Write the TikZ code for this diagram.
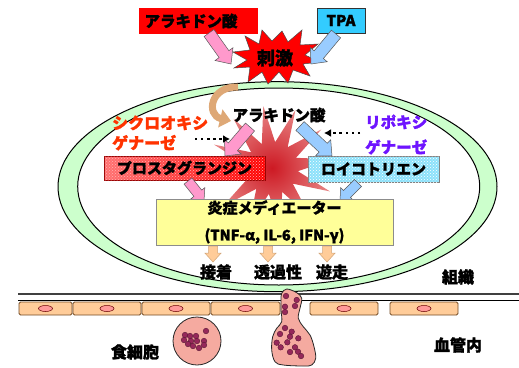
\documentclass[tikz,border=0pt]{standalone}
\usepackage{fontspec}
\setmainfont{Noto Sans CJK JP}[BoldFeatures={FakeBold=1.5}]
\usetikzlibrary{calc,shapes.geometric,patterns,arrows.meta}

\definecolor{aared}{RGB}{255,0,0}
\definecolor{tpacyan}{RGB}{51,204,255}
\definecolor{pinkarr}{RGB}{255,153,204}
\definecolor{bluearr}{RGB}{153,204,255}
\definecolor{ringgreen}{RGB}{204,255,204}
\definecolor{coxred}{RGB}{255,51,0}
\definecolor{loxviolet}{RGB}{110,20,255}
\definecolor{medyellow}{RGB}{255,255,153}
\definecolor{cellorange}{RGB}{255,204,153}
\definecolor{nucpink}{RGB}{255,153,153}
\definecolor{wbcpink}{RGB}{245,170,160}
\definecolor{granule}{RGB}{150,40,90}
\definecolor{tanarr}{RGB}{222,168,118}
\definecolor{ltcyan}{RGB}{140,225,250}

% fat arrow from #2 to #3, half widths of shaft (#4) and head (#5)
\newcommand\fatarrow[5]{%
  \filldraw[#1] let \p1=($(#3)-(#2)$), \n1={atan2(\y1,\x1)},
      \n2={veclen(\x1,\y1)-1.1*#5} in
    ($(#2)+(\n1+90:#4)$) -- ($(#2)+(\n1:{\n2*1pt})+(\n1+90:#4)$)
    -- ($(#2)+(\n1:{\n2*1pt})+(\n1+90:#5)$) -- (#3)
    -- ($(#2)+(\n1:{\n2*1pt})+(\n1-90:#5)$) -- ($(#2)+(\n1:{\n2*1pt})+(\n1-90:#4)$)
    -- ($(#2)+(\n1-90:#4)$) -- cycle;}

\tikzset{
  jp/.style={font=\bfseries\fontsize{#1}{#1}\selectfont, inner sep=0pt},
  jp/.default=15.5,
  box/.style={inner sep=0pt, font=\bfseries\fontsize{15}{18}\selectfont},
  pinkfat/.style={fill=pinkarr, draw=black!65, line width=.5pt},
  bluefat/.style={fill=bluearr, draw=black!65, line width=.5pt},
  orangefat/.style={fill=cellorange, draw=brown!70, line width=.5pt},
  cell/.style={draw=brown!60!black, fill=cellorange, rounded corners=1.5pt, line width=.8pt},
  nuc/.style={draw=red!40!black, fill=nucpink, line width=.5pt},
  granule/.style={fill=granule, draw=granule!60!black, line width=.4pt},
  dotarrow/.style={line width=2.3pt, dash pattern=on 2.3pt off 3.8pt, -{Latex[length=7pt,width=8pt]}},
}

\begin{document}
\begin{tikzpicture}[x=1pt,y=-1pt]
\useasboundingbox[fill=white] (0,0) rectangle (519,367);

% tissue ring
\filldraw[fill=ringgreen, line width=1pt] (277.5,186.7) ellipse (219.5pt and 105pt);
\filldraw[fill=white, line width=1pt] (278.7,186.5) ellipse (201pt and 98.5pt);

% vessel wall
\draw[line width=1.3pt, black!75] (18,294) -- (519,294);
\draw[line width=1.3pt] (18,300.5) -- (519,300.5);
\foreach \a/\b in {19/72,73/141,142/210,211/280,310/378,390/458}{
  \draw[cell] (\a,302) rectangle (\b,315);
  \draw[nuc] ({(\a+\b)/2},308.5) ellipse (7pt and 3pt);
}

% phagocyte
\filldraw[fill=wbcpink, draw=black!85, line width=.8pt] (197,341) circle (24pt);
\foreach \p in {(185,335),(190,336),(196,336),(206,331),(184,340),(191,341),
  (197,341),(204,341),(188,344),(193,346),(199,348),(204,345)}
  \filldraw[granule] \p circle (2.8pt);

% cell passing the wall
\filldraw[fill=wbcpink, draw=black!85, line width=.8pt] plot[smooth cycle, tension=.6] coordinates {
  (286.7,289) (296.7,292.7) (301.7,298.3) (300,308.3) (298.3,318.3) (303.3,326.7)
  (310,335) (314,346.7) (315.7,358.3) (311.7,365) (303.3,366) (283.3,365)
  (275,361.7) (271.7,350) (272.7,336.7) (276.7,328.3) (281.7,321.7) (281,310)
  (281,300) (281.7,293.3)};
\foreach \p in {(286,296),(296.7,300),(295,306),(285,306.7),(285,312),
  (285,328),(291.7,331.7),(280,334),(290,336.7),(298.3,338.3),(276.7,342.7),
  (287.3,342.3),(280.7,347.3),(295,347.3),(290,352),(298,351.7),(301,356)}
  \filldraw[granule] \p circle (2.8pt);

% stimulus burst
\filldraw[fill=red, draw=black!70, line width=.5pt] (233,52) -- (250,50) -- (245,36)
  -- (259,44) -- (262,30) -- (272,41) -- (282,31) -- (288,42) -- (302,30)
  -- (300,45) -- (318,44) -- (305,55) -- (320,62) -- (303,64) -- (310,76)
  -- (293,70) -- (288,83) -- (279,72) -- (268,84) -- (262,72) -- (248,82)
  -- (250,67) -- (234,68) -- (247,60) -- cycle;
\node[jp=18] (stim) at (275,58) {刺激};

% release of arachidonic acid
\coordinate (rel1) at (238,87);
\coordinate (rel2) at (231,121);
\draw[line width=7pt, tanarr, -{Triangle[length=11pt,width=18pt]}]
  (rel1) .. controls (210,86) and (206,115) .. (rel2);

% inflammation burst
\node[star, star points=12, star point ratio=2.4, minimum size=125pt, inner sep=0pt,
  shading=radial, inner color={rgb,255:red,205;green,25;blue,35},
  outer color={rgb,255:red,232;green,135;blue,135}, rotate=8] (burst) at (272,168) {};

% top boxes
\node[box, fill=aared, minimum width=119pt, minimum height=26pt] (aa) at (198.5,21) {};
\node[jp=15.5] at (191,21) {アラキドン酸};
\node[box, fill=tpacyan, draw=black!80, line width=.6pt, minimum width=48pt, minimum height=25pt] (tpa) at (341,20.5) {TPA};
\coordinate (aa1) at (209,33);
\coordinate (aa2) at (231,64);
\coordinate (tpa1) at (336,34);
\coordinate (tpa2) at (311,64);
\fatarrow{pinkfat}{aa1}{aa2}{6pt}{11pt}
\fatarrow{bluefat}{tpa1}{tpa2}{6pt}{11pt}

% enzymes and products
\node[jp] (aamid) at (279,115) {アラキドン酸};
\node[jp, anchor=west, align=left, text=coxred, font=\bfseries\fontsize{16}{20}\selectfont] (cox) at (112,133) {シクロオキシ\\ゲナーゼ};
\node[jp, anchor=west, align=left, text=loxviolet, font=\bfseries\fontsize{15.5}{25}\selectfont] (lox) at (365,134.5) {リポキシ\\ゲナーゼ};

\node[box, draw=red!60!black, line width=.6pt, minimum width=161pt, minimum height=24pt,
  left color=red!55!white, right color=red,
  postaction={pattern=crosshatch dots, pattern color=white!70!red}] (pg) at (184.5,168) {};
\node[jp=15] at (pg) {プロスタグランジン};
\node[box, draw=black!50, line width=.6pt, minimum width=131pt, minimum height=26pt, fill=ltcyan,
  postaction={pattern=crosshatch dots, pattern color=white}] (lt) at (373.5,169) {};
\node[jp=15] at (lt) {ロイコトリエン};

\coordinate (cx1) at (250,127);
\coordinate (cx2) at (225,156);
\coordinate (lx1) at (300,126);
\coordinate (lx2) at (332,156);
\fatarrow{pinkfat}{cx1}{cx2}{6pt}{11pt}
\fatarrow{bluefat}{lx1}{lx2}{6pt}{11pt}

\coordinate (cd1) at (195,139);
\coordinate (cd2) at (230,139);
\coordinate (ld1) at (360,133);
\coordinate (ld2) at (324,133);
\draw[dotarrow] (cd1) -- (cd2);
\draw[dotarrow] (ld1) -- (ld2);

% mediators
\coordinate (pg1) at (188,181);
\coordinate (pg2) at (204,201);
\coordinate (lt1) at (358,183);
\coordinate (lt2) at (340,201);
\fatarrow{pinkfat}{pg1}{pg2}{5pt}{9pt}
\fatarrow{bluefat}{lt1}{lt2}{5pt}{9pt}
\node[box, fill=medyellow, draw=black!45, line width=.8pt, minimum width=237pt, minimum height=46pt,
  align=center, font=\bfseries\fontsize{15}{27}\selectfont] (med) at (274.5,222)
  {炎症メディエーター\\{\fontsize{14.5}{27}\selectfont (TNF-α, IL-6, IFN-γ)}};

\foreach \x/\name in {213/adh,268/perm,327/migr}{
  \coordinate (\name1) at (\x,246);
  \coordinate (\name2) at (\x,262);
  \fatarrow{orangefat}{\name1}{\name2}{4.5pt}{8pt}
}
\node[jp=16] (adh) at (216,272) {接着};
\node[jp=16] (perm) at (278,272) {透過性};
\node[jp=16] (migr) at (332,272) {遊走};

% compartments
\node[jp=16] (tis) at (458,277) {組織};
\node[jp=16] (phag) at (135,352) {食細胞};
\node[jp=16] (lumen) at (458,345) {血管内};
\end{tikzpicture}
\end{document}
